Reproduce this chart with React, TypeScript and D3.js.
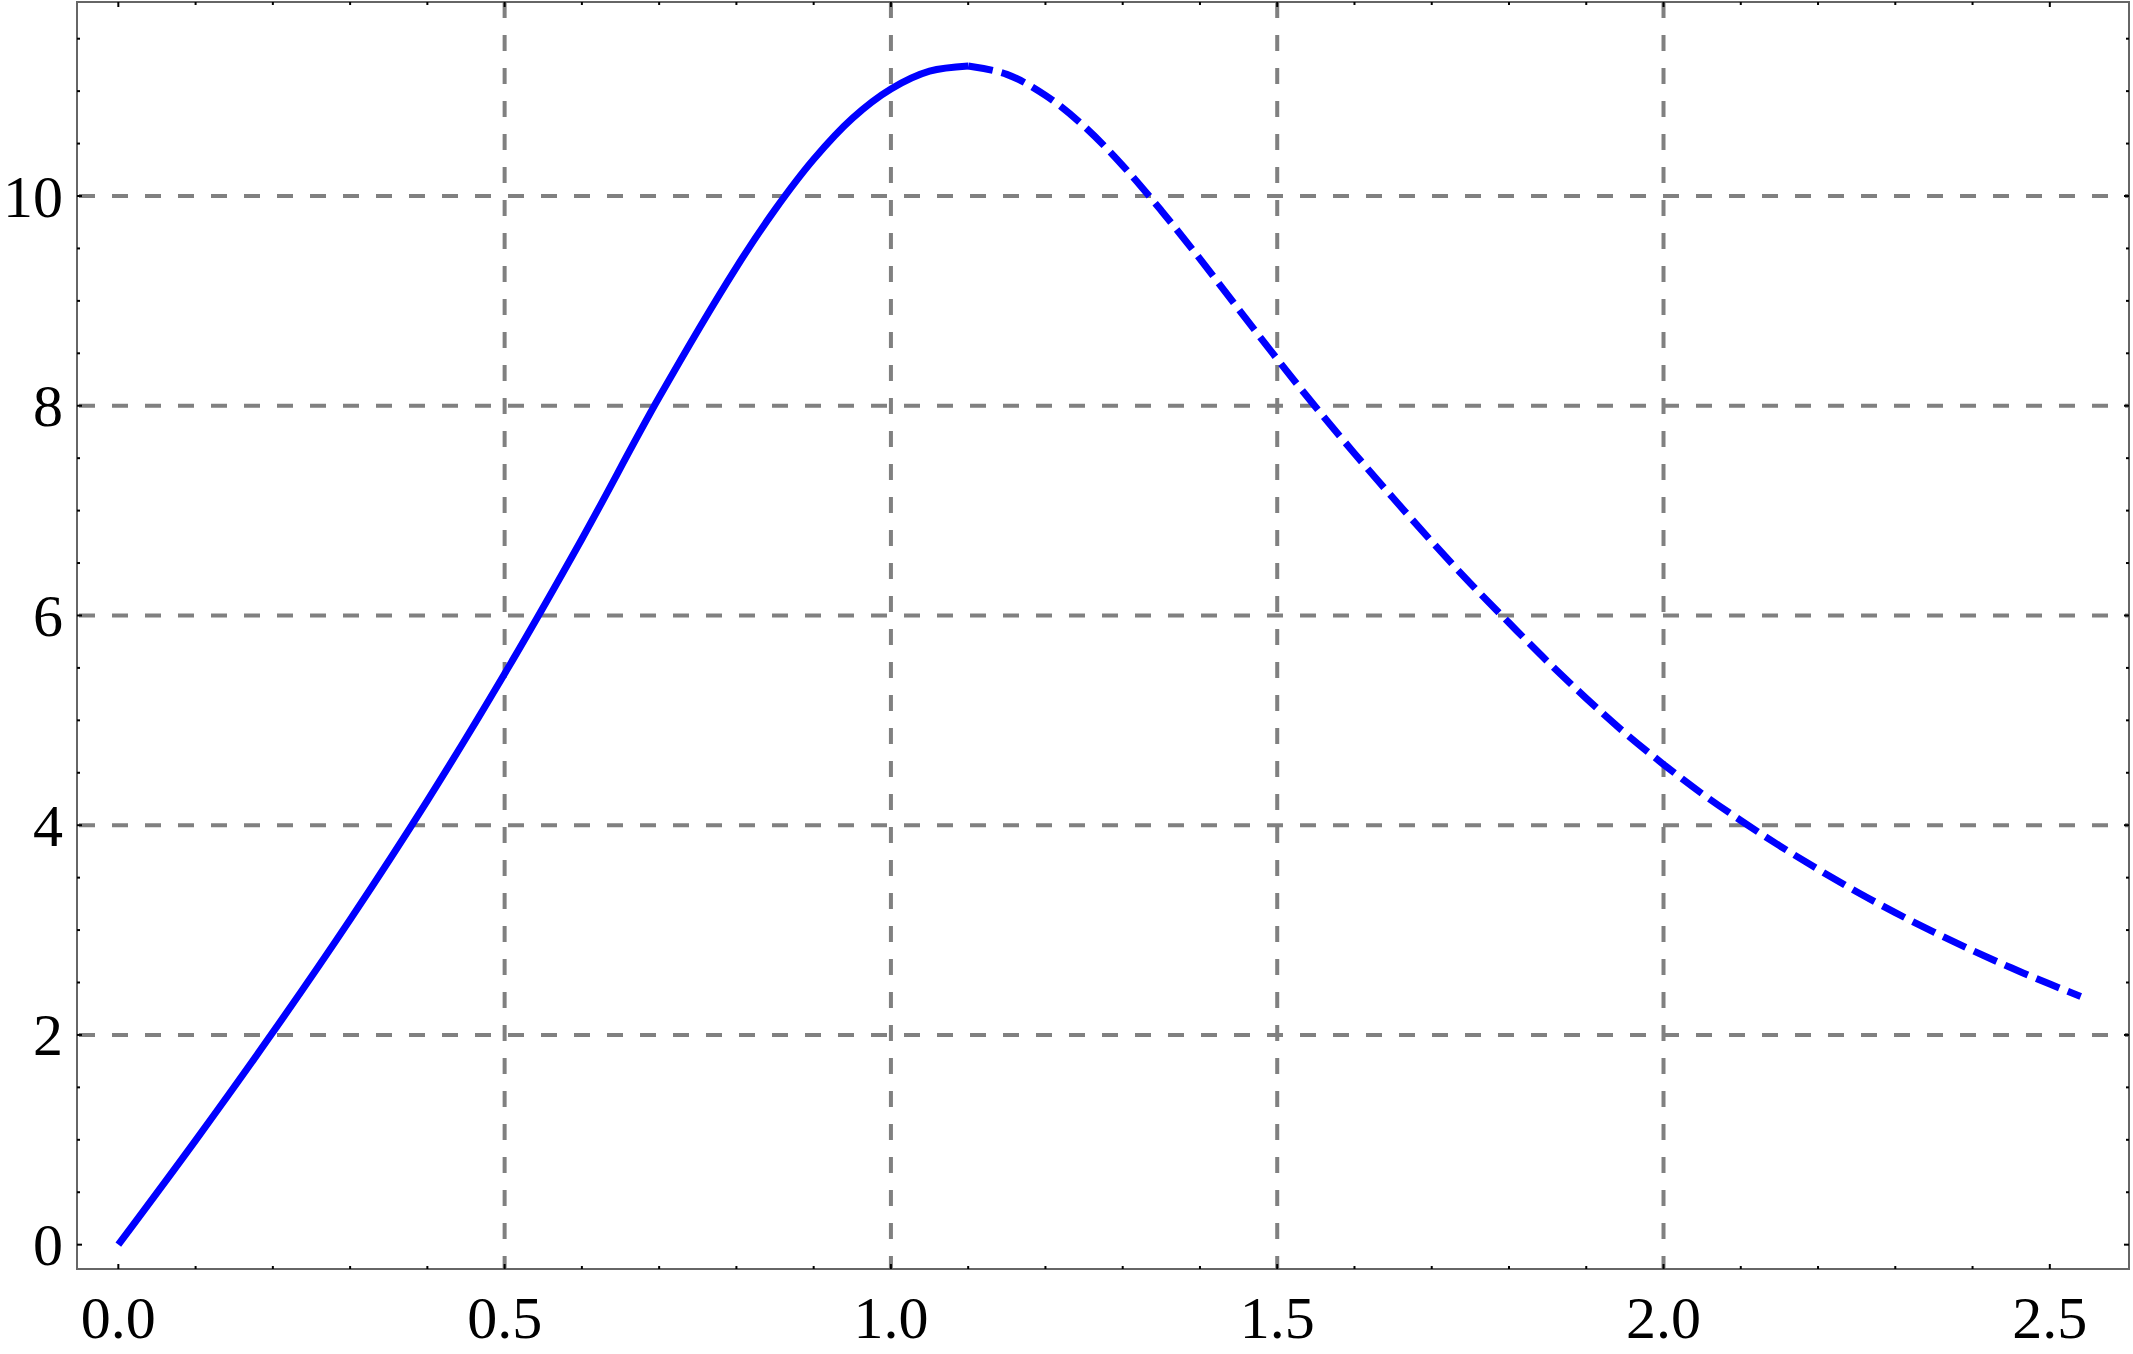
import React, { useEffect, useRef } from 'react'
import * as d3 from 'd3'

const width = 2133
const height = 1354

// curve values
const xVals = [0, 0.1, 0.2, 0.3, 0.4, 0.5, 0.6, 0.7, 0.8, 0.85, 0.9, 0.95, 1.0, 1.05, 1.1,
  1.15, 1.2, 1.25, 1.3, 1.35, 1.4, 1.45, 1.5, 1.55, 1.6, 1.65, 1.7, 1.75, 1.8, 1.85, 1.9,
  1.95, 2.0, 2.05, 2.1, 2.15, 2.2, 2.25, 2.3, 2.35, 2.4, 2.45, 2.5, 2.54]
const yVals = [0, 0.995, 2.025, 3.1, 4.235, 5.445, 6.73, 8.08, 9.32, 9.87, 10.35, 10.74, 11.02, 11.19, 11.24,
  11.16, 10.96, 10.665, 10.29, 9.86, 9.4, 8.92, 8.445, 7.985, 7.545, 7.12, 6.705, 6.306, 5.93, 5.56, 5.21,
  4.88, 4.58, 4.3, 4.045, 3.805, 3.58, 3.365, 3.166, 2.98, 2.805, 2.64, 2.485, 2.367]
const splitX = 1.1 // solid up to here, dashed after

const xTicks = [0, 0.5, 1.0, 1.5, 2.0, 2.5]
const xTickLabels = ['0.0', '0.5', '1.0', '1.5', '2.0', '2.5']
const xGrid = [0.5, 1.0, 1.5, 2.0]
const yTicks = [0, 2, 4, 6, 8, 10]
const yTickLabels = ['0', '2', '4', '6', '8', '10']
const yGrid = [2, 4, 6, 8, 10]

const plot = { left: 77, right: 2129, top: 2, bottom: 1269 }
const fontFamily = '"Liberation Serif", "Times New Roman", serif'

export default function App() {
  const svgRef = useRef<SVGSVGElement>(null)

  useEffect(() => {
    const root = d3.select(svgRef.current)
    root.selectAll('*').remove()

    const x = d3.scaleLinear().domain([-0.0535, 2.6025]).range([plot.left, plot.right])
    const y = d3.scaleLinear().domain([-0.232, 11.85]).range([plot.bottom, plot.top])

    root.append('rect')
      .attr('width', width).attr('height', height).attr('fill', 'white')

    // grid
    const grid = root.append('g').attr('stroke', '#808080').attr('stroke-width', 4)
      .attr('stroke-dasharray', '16 17')
    grid.selectAll('line.vx').data(xGrid).enter().append('line')
      .attr('class', 'vx')
      .attr('x1', d => x(d)).attr('x2', d => x(d))
      .attr('y1', plot.top).attr('y2', plot.bottom)
    grid.selectAll('line.hy').data(yGrid).enter().append('line')
      .attr('class', 'hy')
      .attr('x1', plot.left + 2).attr('x2', plot.right)
      .attr('y1', d => y(d)).attr('y2', d => y(d))

    // curve
    const pts = xVals.map((v, i) => [v, yVals[i]] as [number, number])
    const line = d3.line<[number, number]>()
      .x(d => x(d[0])).y(d => y(d[1]))
      .curve(d3.curveCatmullRom.alpha(0.5))
    root.append('path')
      .attr('d', line(pts.filter(p => p[0] <= splitX)))
      .attr('fill', 'none').attr('stroke', '#0000ff').attr('stroke-width', 7)
    root.append('path')
      .attr('d', line(pts.filter(p => p[0] >= splitX)))
      .attr('fill', 'none').attr('stroke', '#0000ff').attr('stroke-width', 7)
      .attr('stroke-dasharray', '25 9')

    // frame
    root.append('rect')
      .attr('x', plot.left).attr('y', plot.top)
      .attr('width', plot.right - plot.left).attr('height', plot.bottom - plot.top)
      .attr('fill', 'none').attr('stroke', '#666666').attr('stroke-width', 2)

    // ticks (inside, mirrored on top/right)
    const ticks = root.append('g').attr('stroke', 'black').attr('stroke-width', 2)
    const xMinor = d3.range(0, 26).map(i => i / 10)
    xMinor.forEach(v => {
      const major = Math.abs(v * 2 - Math.round(v * 2)) < 1e-6
      const len = major ? 5 : 3
      ticks.append('line').attr('x1', x(v)).attr('x2', x(v))
        .attr('y1', plot.bottom).attr('y2', plot.bottom - len)
      ticks.append('line').attr('x1', x(v)).attr('x2', x(v))
        .attr('y1', plot.top).attr('y2', plot.top + len)
    })
    const yMinor = d3.range(0, 24).map(i => i / 2)
    yMinor.forEach(v => {
      const major = v % 2 === 0
      const len = major ? 5 : 3
      ticks.append('line').attr('y1', y(v)).attr('y2', y(v))
        .attr('x1', plot.left).attr('x2', plot.left + len)
      ticks.append('line').attr('y1', y(v)).attr('y2', y(v))
        .attr('x1', plot.right).attr('x2', plot.right - len)
    })

    // labels
    root.selectAll('text.xl').data(xTicks).enter().append('text')
      .attr('class', 'xl')
      .attr('x', d => x(d)).attr('y', 1338)
      .attr('text-anchor', 'middle')
      .attr('font-family', fontFamily).attr('font-size', 60)
      .text((d, i) => xTickLabels[i])
    root.selectAll('text.yl').data(yTicks).enter().append('text')
      .attr('class', 'yl')
      .attr('x', 63).attr('y', d => y(d) + 20.5)
      .attr('text-anchor', 'end')
      .attr('font-family', fontFamily).attr('font-size', 60)
      .text((d, i) => yTickLabels[i])
  }, [])

  return (
    <svg ref={svgRef} width={width} height={height}
      style={{ position: 'absolute', left: 0, top: 0 }} />
  )
}
